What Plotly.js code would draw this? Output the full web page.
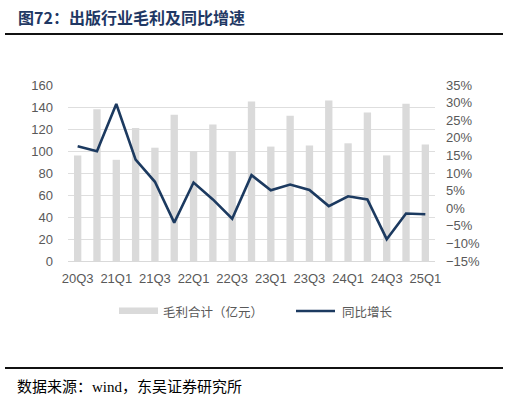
<!DOCTYPE html>
<html>
<head>
<meta charset="utf-8">
<script src="https://cdn.plot.ly/plotly-3.0.1.min.js"></script>
<style>
  html, body { margin: 0; padding: 0; background: #fff; }
  #chart { width: 509px; height: 402px; }
</style>
</head>
<body>
<div id="chart"></div>
<script>
// ------------------------------
// data
// ------------------------------
var quarters = ['20Q3', '20Q4', '21Q1', '21Q2', '21Q3', '21Q4', '22Q1', '22Q2', '22Q3', '22Q4',
  '23Q1', '23Q2', '23Q3', '23Q4', '24Q1', '24Q2', '24Q3', '24Q4', '25Q1'];
var grossProfit = [96, 138, 92, 121, 103, 133, 100, 124, 100, 145,
  104, 132, 105, 146, 107, 135, 96, 143, 106];
var yoyGrowth = [17.6, 16.2, 29.6, 13.8, 7.5, -4.1, 7.3, 2.5, -3.0, 9.4,
  5.1, 6.7, 5.2, 0.6, 3.4, 2.5, -8.8, -1.5, -1.7];
var tickLabels = ['20Q3', '21Q1', '21Q3', '22Q1', '22Q3', '23Q1', '23Q3', '24Q1', '24Q3', '25Q1'];
var seriesNames = ['毛利合计（亿元）', '同比增长'];

var barColor = '#dadada';
var lineColor = '#1c3a60';
var tickFont = { family: 'Liberation Sans, Arial, sans-serif', size: 13, color: '#595959' };
var legendFont = { family: 'Noto Sans CJK SC, sans-serif', size: 12.5, color: '#595959' };

// pixel -> paper helpers (plot area 68..435 x 85..261)
function px(x) { return (x - 68) / 367; }
function py(y) { return (261 - y) / 176; }

var bars = {
  x: quarters,
  y: grossProfit,
  type: 'bar',
  name: seriesNames[0],
  marker: { color: barColor },
  yaxis: 'y'
};

var line = {
  x: quarters,
  y: yoyGrowth,
  type: 'scatter',
  mode: 'lines',
  name: seriesNames[1],
  line: { color: lineColor, width: 2.6 },
  yaxis: 'y2'
};

var layout = {
  width: 509,
  height: 402,
  margin: { l: 68, r: 74, t: 85, b: 141 },
  paper_bgcolor: '#fff',
  plot_bgcolor: '#fff',
  showlegend: false,
  bargap: 0.62,
  xaxis: {
    type: 'category',
    tickvals: tickLabels,
    ticktext: tickLabels,
    tickfont: tickFont,
    showgrid: false,
    showline: true,
    linecolor: '#d9d9d9',
    linewidth: 1,
    ticks: '',
    ticklabelstandoff: 5
  },
  yaxis: {
    range: [0, 160],
    dtick: 20,
    tickfont: tickFont,
    gridcolor: '#dedede',
    gridwidth: 1,
    zeroline: false,
    ticks: '',
    ticklabelstandoff: 14
  },
  yaxis2: {
    range: [-15, 35],
    dtick: 5,
    ticksuffix: '%',
    overlaying: 'y',
    side: 'right',
    showgrid: false,
    zeroline: false,
    tickfont: tickFont,
    ticks: '',
    ticklabelstandoff: 10
  },
  annotations: [
    {
      text: '<b>图72：出版行业毛利及同比增速</b>',
      xref: 'paper', yref: 'paper',
      x: px(16), y: py(17),
      xanchor: 'left', yanchor: 'middle',
      showarrow: false,
      font: { family: 'Noto Sans CJK SC, sans-serif', size: 16, color: '#1f3864' }
    },
    {
      text: '数据来源：<span style="font-family:Liberation Serif">wind</span>，东吴证券研究所',
      xref: 'paper', yref: 'paper',
      x: px(15), y: py(385),
      xanchor: 'left', yanchor: 'middle',
      showarrow: false,
      font: { family: 'Noto Sans CJK SC, serif', size: 15, color: '#000' }
    },
    // legend labels
    {
      text: seriesNames[0],
      xref: 'paper', yref: 'paper',
      x: px(161), y: py(311),
      xanchor: 'left', yanchor: 'middle',
      showarrow: false,
      font: legendFont
    },
    {
      text: seriesNames[1],
      xref: 'paper', yref: 'paper',
      x: px(340), y: py(311),
      xanchor: 'left', yanchor: 'middle',
      showarrow: false,
      font: legendFont
    }
  ],
  shapes: [
    {
      type: 'line', xref: 'paper', yref: 'paper',
      x0: px(5), x1: px(503), y0: py(34), y1: py(34),
      line: { color: '#111', width: 2 }
    },
    {
      type: 'line', xref: 'paper', yref: 'paper',
      x0: px(5), x1: px(503), y0: py(368), y1: py(368),
      line: { color: '#111', width: 2 }
    },
    // legend swatches
    {
      type: 'rect', xref: 'paper', yref: 'paper',
      x0: px(119), x1: px(158), y0: py(307.5), y1: py(314),
      fillcolor: barColor, line: { width: 0 }
    },
    {
      type: 'line', xref: 'paper', yref: 'paper',
      x0: px(296), x1: px(335), y0: py(311), y1: py(311),
      line: { color: lineColor, width: 2.6 }
    }
  ]
};

Plotly.newPlot('chart', [bars, line], layout, { displayModeBar: false, staticPlot: true });
</script>
</body>
</html>
